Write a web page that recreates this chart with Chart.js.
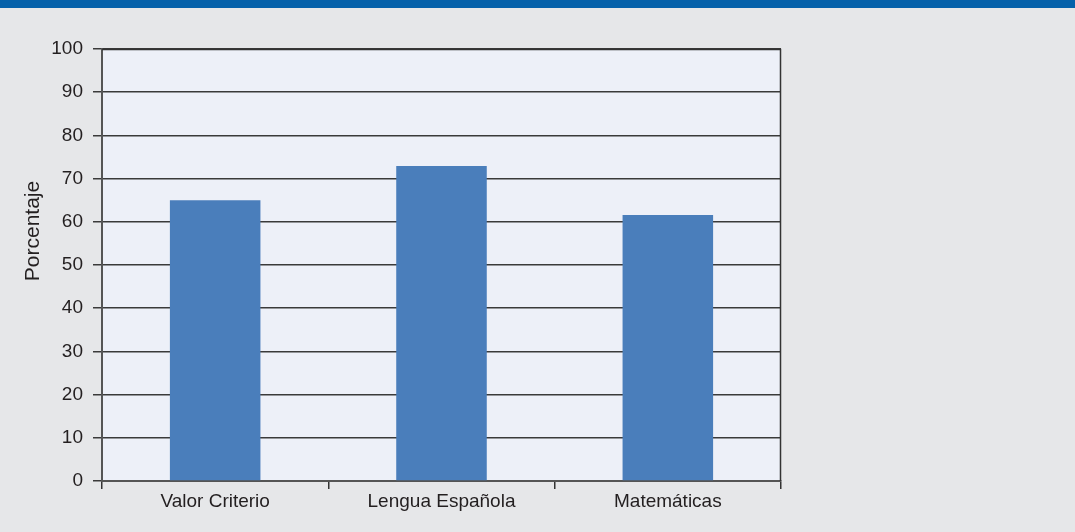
<!DOCTYPE html>
<html>
<head>
<meta charset="utf-8">
<script src="https://cdn.jsdelivr.net/npm/chart.js@4/dist/chart.umd.min.js"></script>
<style>
  html, body { margin: 0; padding: 0; background: #e6e7e9; }
  #band { position: absolute; left: 0; top: 0; width: 1075px; height: 8px; background: #0561aa; }
  #wrap { position: absolute; left: 0; top: 0; width: 1075px; height: 532px; }
</style>
</head>
<body>
<div id="band"></div>
<div id="wrap"><canvas id="chart"></canvas></div>
<script>
// Porcentaje por asignatura
const categories = ["Valor Criterio", "Lengua Española", "Matemáticas"];
const percentages = [65, 72.9, 61.6];
const yTicks = [0, 10, 20, 30, 40, 50, 60, 70, 80, 90, 100];
const yTitle = "Porcentaje";

const sans = "'Liberation Sans', Arial, Helvetica, sans-serif";

// plot area fill, frame and the axis title (sits a bit above centre in the original)
const plotFrame = {
  id: "plotFrame",
  beforeDraw(chart) {
    const a = chart.chartArea, ctx = chart.ctx;
    ctx.save();
    ctx.fillStyle = "#edf0f8";
    ctx.fillRect(a.left, a.top, a.right - a.left, a.bottom - a.top);
    ctx.restore();
  },
  afterDraw(chart) {
    const a = chart.chartArea, ctx = chart.ctx;
    ctx.save();
    ctx.strokeStyle = "#333";
    ctx.lineWidth = 1.5;
    ctx.beginPath();
    ctx.moveTo(a.left, a.top + 0.5);
    ctx.lineTo(a.right - 0.5, a.top + 0.5);
    ctx.lineTo(a.right - 0.5, a.bottom);
    ctx.stroke();

    ctx.translate(33, 231);
    ctx.rotate(-Math.PI / 2);
    ctx.fillStyle = "#231f20";
    ctx.font = "21px " + sans;
    ctx.textAlign = "center";
    ctx.textBaseline = "middle";
    ctx.fillText(yTitle, 0, 0);
    ctx.restore();
  }
};

new Chart(document.getElementById("chart"), {
  type: "bar",
  data: {
    labels: categories,
    datasets: [{
      data: percentages,
      backgroundColor: "#4a7ebb",
      barPercentage: 0.4,
      categoryPercentage: 1
    }]
  },
  options: {
    responsive: true,
    maintainAspectRatio: false,
    animation: false,
    layout: { padding: { left: 0, right: 294, top: 49, bottom: 0 } },
    plugins: {
      legend: { display: false },
      tooltip: { enabled: false }
    },
    scales: {
      x: {
        grid: {
          offset: true,
          drawOnChartArea: false,
          drawTicks: true,
          tickLength: 8,
          color: "#333",
          lineWidth: 1.5
        },
        border: { color: "#555", width: 2 },
        ticks: {
          color: "#231f20",
          font: { family: sans, size: 19 },
          padding: 1
        },
        afterFit(scale) { scale.height = 51; }
      },
      y: {
        min: 0,
        max: 100,
        afterBuildTicks(scale) { scale.ticks = yTicks.map(v => ({ value: v })); },
        grid: {
          color: "#3a3a3a",
          lineWidth: 1.5,
          tickLength: 9
        },
        border: { color: "#555", width: 2 },
        ticks: {
          color: "#231f20",
          font: { family: sans, size: 19 },
          padding: 10
        },
        afterFit(scale) { scale.width = 102; }
      }
    }
  },
  plugins: [plotFrame]
});
</script>
</body>
</html>
